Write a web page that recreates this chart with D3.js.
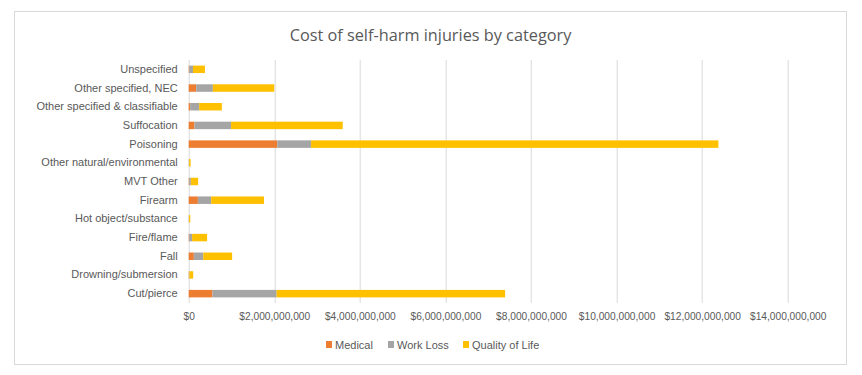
<!DOCTYPE html>
<html>
<head>
<meta charset="utf-8">
<script src="https://cdn.jsdelivr.net/npm/d3@7"></script>
<style>
  body { margin: 0; background: #fff; }
  text { font-family: "Liberation Sans", Arial, sans-serif; fill: #595959; }
</style>
</head>
<body>
<div id="chart"></div>
<script>
// data (dollars, billions)
var categories = ["Unspecified", "Other specified, NEC", "Other specified & classifiable", "Suffocation",
  "Poisoning", "Other natural/environmental", "MVT Other", "Firearm", "Hot object/substance",
  "Fire/flame", "Fall", "Drowning/submersion", "Cut/pierce"];
var medical   = [0.01, 0.175, 0.035, 0.135, 2.07, 0.002, 0.01, 0.215, 0.002, 0.01, 0.12, 0.005, 0.555];
var workLoss  = [0.09, 0.39, 0.21, 0.855, 0.79, 0.008, 0.04, 0.31, 0.005, 0.07, 0.22, 0.01, 1.50];
var qualLife  = [0.28, 1.435, 0.53, 2.61, 9.52, 0.035, 0.17, 1.235, 0.03, 0.35, 0.675, 0.09, 5.34];
var seriesNames = ["Medical", "Work Loss", "Quality of Life"];
var colors = ["#ED7D31", "#A5A5A5", "#FFC000"];
var xTicks = [0, 2, 4, 6, 8, 10, 12, 14];

var svgWidth = 862;
var svgHeight = 375;

var margin = { top: 60, left: 188.7, right: 74, bottom: 72 };
var chartHeight = svgHeight - margin.top - margin.bottom;

var svg = d3.select("#chart").append("svg")
  .attr("width", svgWidth)
  .attr("height", svgHeight);

// outer frame
svg.append("rect")
  .attr("x", 14.5).attr("y", 11.5)
  .attr("width", 832).attr("height", 353)
  .attr("fill", "#fff")
  .attr("stroke", "#d9d9d9");

svg.append("text")
  .attr("x", 430.5).attr("y", 41)
  .attr("text-anchor", "middle")
  .style("font-family", "'Open Sans', sans-serif")
  .style("font-size", "16.3px")
  .text("Cost of self-harm injuries by category");

var chartGroup = svg.append("g")
  .attr("transform", `translate(${margin.left}, ${margin.top})`);

var xScale = d3.scaleLinear().domain([0, 14]).range([0, 599]);
var yScale = d3.scaleBand().domain(categories).range([0, chartHeight])
  .paddingInner(0.6).paddingOuter(0.3);

// gridlines
chartGroup.selectAll(".grid")
  .data(xTicks)
  .enter()
  .append("line")
  .attr("x1", d => Math.round(xScale(d)) + 0.5)
  .attr("x2", d => Math.round(xScale(d)) + 0.5)
  .attr("y1", 0)
  .attr("y2", chartHeight)
  .attr("stroke", "#d9d9d9");

var rows = categories.map(function(c, i) {
  return { cat: c, Medical: medical[i], "Work Loss": workLoss[i], "Quality of Life": qualLife[i] };
});
var stacked = d3.stack().keys(seriesNames)(rows);

chartGroup.selectAll(".series")
  .data(stacked)
  .enter()
  .append("g")
  .attr("fill", (d, i) => colors[i])
  .selectAll("rect")
  .data(d => d)
  .enter()
  .append("rect")
  .attr("x", d => xScale(d[0]))
  .attr("y", d => yScale(d.data.cat))
  .attr("width", d => xScale(d[1]) - xScale(d[0]))
  .attr("height", yScale.bandwidth());

// axes
var leftAxis = d3.axisLeft(yScale).tickSize(0).tickPadding(11);
var yAxis = chartGroup.append("g").call(leftAxis);
yAxis.select(".domain").remove();
yAxis.selectAll("text").style("font-size", "11px").attr("fill", "#595959");

var bottomAxis = d3.axisBottom(xScale)
  .tickValues(xTicks)
  .tickSize(0)
  .tickPadding(10)
  .tickFormat(d => d === 0 ? "$0" : "$" + d3.format(",")(d * 1e9));
var xAxis = chartGroup.append("g")
  .attr("transform", `translate(0, ${chartHeight})`)
  .call(bottomAxis);
xAxis.select(".domain").remove();
xAxis.selectAll("text").style("font-size", "10.2px").attr("fill", "#595959");

// legend
var legendX = [326, 388, 463];
var legend = svg.append("g");
seriesNames.forEach(function(name, i) {
  legend.append("rect")
    .attr("x", legendX[i]).attr("y", 341)
    .attr("width", 6).attr("height", 7)
    .attr("fill", colors[i]);
  legend.append("text")
    .attr("x", legendX[i] + 9).attr("y", 349)
    .style("font-size", "11px")
    .text(name);
});
</script>
</body>
</html>
